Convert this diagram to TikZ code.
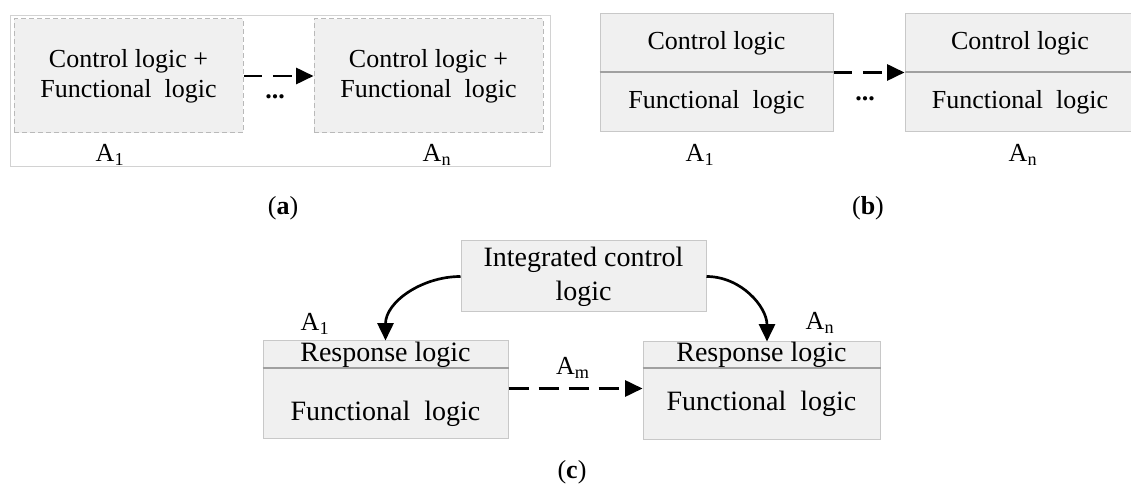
\documentclass[tikz,border=0pt]{standalone}
\usepackage{fontspec}
\setmainfont{Liberation Serif}
\usetikzlibrary{arrows.meta,calc}

\begin{document}
\begin{tikzpicture}[x=0.75pt,y=0.75pt,yscale=-1,xscale=1,
  cell/.style={draw={rgb, 255:red, 200; green, 200; blue, 200}, fill={rgb, 255:red, 240; green, 240; blue, 240}, line width=0.75pt, inner sep=0pt, font=\fontsize{19.5}{22.5}\selectfont},
  dashcell/.style={cell, draw={rgb, 255:red, 185; green, 185; blue, 185}, dash pattern=on 3.75pt off 2.25pt, align=center},
  bigcell/.style={cell, font=\fontsize{21}{25.5}\selectfont},
  rule/.style={draw={rgb, 255:red, 160; green, 160; blue, 160}, line width=1.5pt},
  flow/.style={line width=2pt, -{Triangle[length=13pt,width=12pt]}},
  tag/.style={inner sep=0pt, font=\fontsize{19.5}{22.5}\selectfont},
  caption/.style={inner sep=0pt, font=\fontsize{19.5}{22}\selectfont}
]
\useasboundingbox (0,0) rectangle (1131,484);

%Shape: Rectangle (frame of a)
\draw [draw={rgb, 255:red, 210; green, 210; blue, 210}, line width=0.75pt] (10,16) rectangle (550,167) ;

%(a) single blocks
\node [dashcell, minimum width=171.75pt, minimum height=85.5pt] (a1) at (128.5,76) {Control logic +\\Functional~ logic};
\node [dashcell, minimum width=171.75pt, minimum height=85.5pt] (a2) at (428.5,76) {Control logic +\\Functional~ logic};
%Straight Lines
\draw [flow, dash pattern=on 14pt off 8pt] (a1) -- (a2) ;
\node [tag] (dotsa) at (275,97) {\textbf{...}};
\node [tag] (a1name) at (110,155) {A\textsubscript{1}};
\node [tag] (a2name) at (437,155) {A\textsubscript{n}};
\node [caption] (capa) at (283,208) {(\textbf{a})};

%(b) split blocks
\node [cell, minimum width=174.75pt, minimum height=43.5pt] (b1top) at (716.5,43) {Control logic};
\node [cell, minimum width=174.75pt, minimum height=44.25pt, anchor=north] (b1bot) at (b1top.south) {Functional~ logic};
\node [cell, minimum width=172.5pt, minimum height=43.5pt] (b2top) at (1020,43) {Control logic};
\node [cell, minimum width=172.5pt, minimum height=44.25pt, anchor=north] (b2bot) at (b2top.south) {Functional~ logic};
\draw [rule] (b1top.south west) -- (b1top.south east) ;
\draw [rule] (b2top.south west) -- (b2top.south east) ;
%Straight Lines
\draw [flow, dash pattern=on 14pt off 8pt] (b1top.south east) -- (b2top.south west) ;
\node [tag] (dotsb) at (865,99) {\textbf{...}};
\node [tag] (b1name) at (700,155) {A\textsubscript{1}};
\node [tag] (b2name) at (1023,155) {A\textsubscript{n}};
\node [caption] (capb) at (868,208) {(\textbf{b})};

%(c) integrated control
\node [bigcell, align=center, minimum width=183.75pt, minimum height=53.25pt] (ctrl) at (583.5,276.5) {Integrated control\\logic};
\node [bigcell, minimum width=183.75pt, minimum height=20.25pt] (c1top) at (385.5,354.5) {Response logic};
\node [bigcell, minimum width=183.75pt, minimum height=51.75pt, anchor=north, text height=30pt, text depth=5pt] (c1bot) at (c1top.south) {Functional~ logic};
\node [bigcell, minimum width=177.75pt, minimum height=19.5pt] (c2top) at (761.5,355) {Response logic};
\node [bigcell, minimum width=177.75pt, minimum height=52.5pt, anchor=north] (c2bot) at (c2top.south) {Functional~ logic};
\draw [rule] (c1top.south west) -- (c1top.south east) ;
\draw [rule] (c2top.south west) -- (c2top.south east) ;
%Curve Lines
\draw [flow] (ctrl.west) to[out=180,in=-90] (c1top.north) ;
\draw [flow] (ctrl.east) to[out=0,in=-90] ($(c2top.north)+(5.5,0)$) ;
%Straight Lines
\draw [flow, dash pattern=on 15pt off 7.5pt] ($(c1bot.north east)+(0,20)$) -- ($(c2bot.north west)+(0,20)$) ;
\node [tag] (c1name) at (315,324) {A\textsubscript{1}};
\node [tag] (cmname) at (573,368) {A\textsubscript{m}};
\node [tag] (c2name) at (820,323) {A\textsubscript{n}};
\node [caption] (capc) at (572,472) {(\textbf{c})};

\end{tikzpicture}
\end{document}
